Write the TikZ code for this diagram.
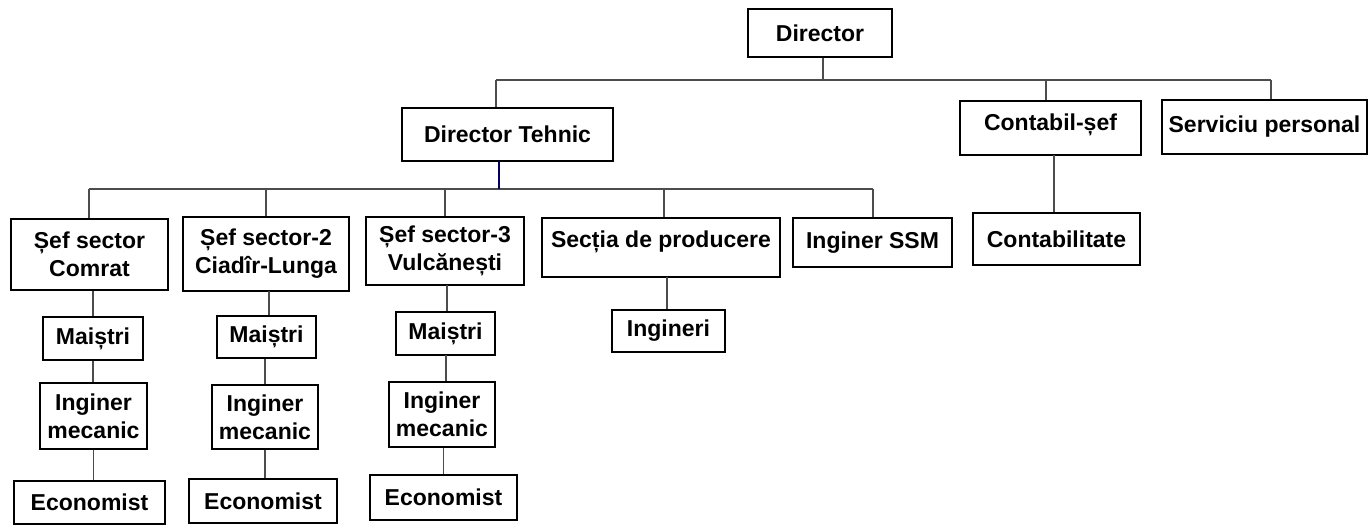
\documentclass[tikz,border=0pt]{standalone}
\usepackage{fontspec}
\setmainfont{Liberation Sans}
\tikzset{
  box/.style={draw=black, line width=2.5pt, inner sep=0pt, align=center,
    font=\fontsize{23}{28}\selectfont\bfseries},
  conn/.style={draw=black!70, line width=1.1pt},
  blueconn/.style={draw=blue!40!black, line width=2pt}
}
\newcommand\bx[6]{%
  \node[box, minimum width={(#4-#2)*1pt}, minimum height={(#5-#3)*1pt}]
    (#1) at ({(#2+#4)/2},{(#3+#5)/2}) {#6};}
\begin{document}
\begin{tikzpicture}[x=1pt,y=-1pt]
\useasboundingbox (0,0) rectangle (1369,525);
% level 0/1
\bx{dir}{748}{9}{892}{57}{Director}
\bx{dt}{402}{108}{613}{161}{Director Tehnic}
\bx{cs}{960}{101}{1141}{155}{Contabil-șef\\[-16pt]\mbox{}}
\bx{sp}{1162}{100}{1367}{154}{Serviciu personal}
\bx{ct}{973}{213}{1140}{265}{Contabilitate}
% level 2
\bx{s1}{11}{219}{168}{290}{Șef sector\\Comrat}
\bx{s2}{183}{217}{349}{291}{Șef sector-2\\Ciadîr-Lunga}
\bx{s3}{366}{217}{524}{285}{Șef sector-3\\Vulcănești}
\bx{sp2}{542}{218}{780}{277}{Secția de producere\\[-12pt]\mbox{}}
\bx{ssm}{793}{218}{952}{267}{Inginer SSM}
\bx{ing}{612}{310}{725}{352}{Ingineri}
% columns
\bx{m1}{43}{317}{143}{360}{Maiștri}
\bx{i1}{40}{383}{147}{449}{Inginer\\mecanic}
\bx{e1}{14}{481}{165}{524}{Economist}
\bx{m2}{217}{316}{316}{358}{Maiștri}
\bx{i2}{212}{385}{318}{449}{Inginer\\mecanic}
\bx{e2}{189}{479}{337}{523}{Economist}
\bx{m3}{396}{312}{495}{355}{Maiștri}
\bx{i3}{389}{382}{495}{447}{Inginer\\mecanic}
\bx{e3}{370}{475}{517}{520}{Economist}
% top bus
\coordinate (b0) at (823,80);
\coordinate (t1) at (496,80);
\coordinate (t2) at (1046,80);
\coordinate (t3) at (1271,80);
\draw[conn] (dir.south -| b0) -- (b0);
\draw[conn] (t1) -- (t3);
\draw[conn] (t1) -- (t1 |- dt.north);
\draw[conn] (t2) -- (t2 |- cs.north);
\draw[conn] (t3) -- (t3 |- sp.north);
\coordinate (c0) at (1054,155);
\draw[conn] (c0) -- (c0 |- ct.north);
% second bus
\coordinate (u0) at (499,189);
\coordinate (u1) at (89,189);
\coordinate (u2) at (266,189);
\coordinate (u3) at (445,189);
\coordinate (u4) at (664,189);
\coordinate (u5) at (873,189);
\draw[conn] (u1) -- (u5);
\draw[blueconn] (u0) -- (u0 |- dt.south);
\draw[conn] (u1) -- (u1 |- s1.north);
\draw[conn] (u2) -- (u2 |- s2.north);
\draw[conn] (u3) -- (u3 |- s3.north);
\draw[conn] (u4) -- (u4 |- sp2.north);
\draw[conn] (u5) -- (u5 |- ssm.north);
\coordinate (p0) at (667,277);
\draw[conn] (p0) -- (p0 |- ing.north);
% column connectors
\draw[conn] (m1.north) -- (m1.north |- s1.south);
\draw[conn] (m1.south) -- (m1.south |- i1.north);
\draw[conn] (i1.south) -- (i1.south |- e1.north);
\coordinate (q2) at (269,291);
\draw[conn] (q2) -- (q2 |- m2.north);
\draw[conn] (i2.north) -- (i2.north |- m2.south);
\draw[conn] (i2.south) -- (i2.south |- e2.north);
\coordinate (q3) at (447,285);
\draw[conn] (q3) -- (q3 |- m3.north);
\coordinate (r3) at (446,355);
\draw[conn] (r3) -- (r3 |- i3.north);
\draw[conn] (e3.north) -- (e3.north |- i3.south);
\end{tikzpicture}
\end{document}
